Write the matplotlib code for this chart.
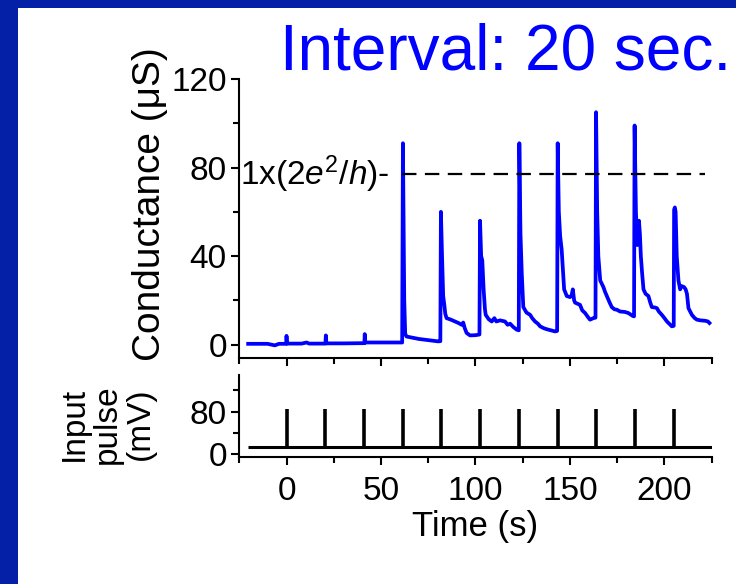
import matplotlib
matplotlib.use("Agg")
import matplotlib.pyplot as plt
from matplotlib.ticker import MultipleLocator
from matplotlib.patches import Rectangle

plt.rcParams['font.family'] = ['Liberation Sans', 'DejaVu Sans']
plt.rcParams['mathtext.fontset'] = 'custom'
plt.rcParams['mathtext.rm'] = 'Liberation Sans'
plt.rcParams['mathtext.it'] = 'Liberation Sans:italic'

# ---- data ----
cond_t = [-20.3, -10, -6.2, -4, -0.2, 0, 0.3, 8, 10.6, 12, 20.6, 20.8, 21.1, 30, 41.2, 41.4, 41.7, 50, 61.2,
          61.6, 62.3, 62.8, 63.5, 70, 80.3, 81.4,
          81.7, 82.3, 82.9, 83.5, 84.0, 84.7, 87, 89.1, 91, 92.7, 93.5, 94.3, 95.3, 97.1, 100, 102.1,
          102.4, 103.0, 103.6, 104.3, 105.0, 105.4, 107, 108.6, 110, 111, 113, 115.6, 117, 118.3, 120, 121.8, 122.9,
          123.2, 123.8, 124.5, 125.3, 127, 128.9, 130, 131.5, 133, 134.2, 136, 137.7, 140, 142.1, 143.2,
          143.5, 144.1, 144.8, 145.6, 146.4, 146.9, 148.3, 150, 150.8, 151.5, 152.2, 152.7, 155.3, 156.5, 158,
          159.5, 160.6, 162.4, 163.5,
          163.8, 164.4, 165, 166, 167.7, 168.5, 169.5, 171, 172.1, 173.5, 174.8, 176.5, 179, 180.9, 183.2, 183.9,
          184.2, 184.9, 185.6, 186.5, 187.0, 187.5, 188.2, 188.9, 190, 191.5, 192.5, 193.3, 195, 196, 197, 198.6,
          200, 201.3, 202.5, 203.9, 204.9,
          205.1, 205.5, 205.9, 206.5, 207.4, 208.3, 209, 210.4, 211.2, 211.9, 212.7, 214.5, 216, 217.2, 219,
          221.6, 223, 223.8]
cond_g = [0.4, 0.4, -0.3, 0.4, 0.4, 4.0, 0.5, 0.5, 1.0, 0.5, 0.5, 4.2, 0.6, 0.6, 0.7, 4.8, 1.0, 1.0, 1.0,
          91, 20, 5, 3.7, 2.6, 1.5, 1.6,
          60, 40, 22, 18, 14, 12, 11.3, 10.5, 9.8, 9.0, 10.0, 7.5, 5.3, 4.2, 4.3, 4.6,
          56, 40, 38, 25, 16, 13.5, 11.5, 10.5, 12, 10.5, 11, 10.5, 9.0, 9.5, 8.0, 6.8, 6.5,
          91, 50, 32, 17, 14.5, 13.5, 12, 10.5, 9.5, 8.3, 7.5, 7.0, 6.5, 6.0, 6.2,
          91, 60, 49, 43, 32, 25, 22, 21.5, 22, 25, 20, 19, 18, 15.5, 14.3,
          12.5, 11.3, 12, 12.2,
          105, 60, 40, 29, 26, 24, 22, 19, 17, 16, 15.8, 15, 14.8, 14.3, 13, 12.8,
          99, 60, 45, 56, 50, 40, 32, 25, 23, 22, 19, 17, 16.8, 16.5, 15, 13.5,
          12, 10.5, 9.5, 8.3, 8.5,
          61, 62, 60, 40, 29, 25, 26.5, 26, 25, 23, 16.5, 13.5, 12, 11.3, 11,
          10.8, 10.5, 9.8]

pulse_times = [0, 20.5, 41, 61.5, 82, 102.5, 123, 143.5, 164, 184.5, 205]
pulse_base = 13
pulse_peak = 85
pulse_span = [-20.3, 225]

quantum_level = 77
quantum_span = [61.3, 221.5]
quantum_label_end = 54.7
quantum_label = r'1x(2$e^2$/$h$)-'

title_text = 'Interval: 20 sec.'
cond_ylabel = 'Conductance (μS)'
pulse_ylabel = 'Input\npulse\n(mV)'
xlabel = 'Time (s)'

# ---- figure ----
fig = plt.figure(figsize=(7.36, 5.84), dpi=100)
fig.patch.set_facecolor('#0420A6')
fig.patches.append(Rectangle((18 / 736, 0), 1, 1 - 8 / 584, transform=fig.transFigure,
                             facecolor='white', edgecolor='none', zorder=-10))

ax1 = fig.add_axes([0.3251, 0.387, 0.6419, 0.4777])
ax2 = fig.add_axes([0.3251, 0.218, 0.6419, 0.1399])

for ax in (ax1, ax2):
    ax.set_zorder(5)
    ax.patch.set_visible(False)
    ax.spines['top'].set_visible(False)
    ax.spines['right'].set_visible(False)
    for s in ('left', 'bottom'):
        ax.spines[s].set_linewidth(1.5)
    ax.set_xlim(-25, 225)
    ax.xaxis.set_major_locator(MultipleLocator(50))
    ax.xaxis.set_minor_locator(MultipleLocator(25))
    ax.tick_params(which='major', direction='out', length=6, width=1.5, labelsize=24, pad=3)
    ax.tick_params(which='minor', direction='out', length=4, width=1.5)

# top panel
ax1.plot(cond_t, cond_g, color='#0000FF', lw=2.7, solid_joinstyle='round')
ax1.plot(quantum_span, [quantum_level, quantum_level], color='black', lw=1.6,
         linestyle=(0, (6.5, 3.8)))
ax1.text(quantum_label_end, quantum_level, quantum_label, ha='right', va='center',
         fontsize=24)
ax1.set_ylim(-6, 120)
ax1.yaxis.set_major_locator(MultipleLocator(40))
ax1.yaxis.set_minor_locator(MultipleLocator(20))
ax1.tick_params(axis='x', which='both', labelbottom=False)

# bottom panel
ax2.hlines(pulse_base, pulse_span[0], pulse_span[1], color='black', lw=2.2)
ax2.vlines(pulse_times, pulse_base, pulse_peak, color='black', lw=2.6)
ax2.set_ylim(-4.5, 149)
ax2.set_yticks([0, 80])
ax2.yaxis.set_minor_locator(MultipleLocator(40))
ax2.tick_params(axis='x', which='major', pad=8)
ax2.set_xlabel(xlabel, fontsize=25, labelpad=2)

fig.text(150 / 736, 1 - 204 / 584, cond_ylabel, rotation=90, ha='center', va='center', fontsize=28)
fig.text(107 / 736, 1 - 424 / 584, pulse_ylabel, rotation=90, ha='center', va='center', fontsize=24,
         linespacing=1.08, multialignment='center')
fig.text(280 / 736, 1 - 52 / 584, title_text, color='#0000FF', ha='left', va='center', fontsize=46)

fig.savefig('out.png', dpi=100, facecolor=fig.get_facecolor())
